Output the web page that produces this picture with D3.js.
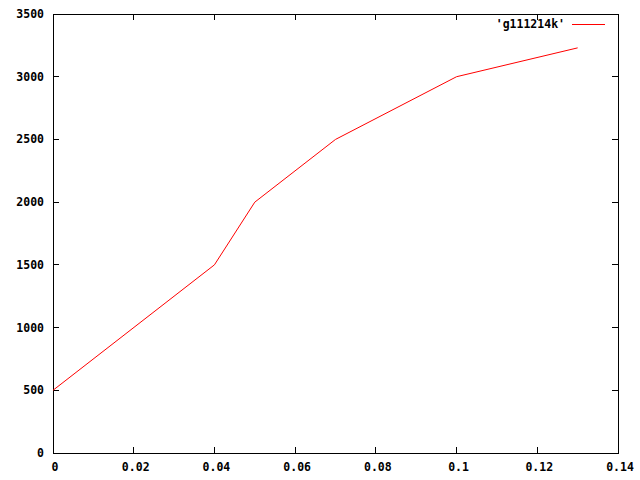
<!DOCTYPE html>
<html><head><meta charset="utf-8">
<script src="https://cdn.jsdelivr.net/npm/d3@7"></script>
<style>body{margin:0;background:#fff}</style>
</head><body>
<svg id="c" width="640" height="480"></svg>
<script>
const xValues = [0, 0.04, 0.05, 0.07, 0.1, 0.13];
const yValues = [500, 1500, 2000, 2500, 3000, 3230];
const seriesName = "'g111214k'";
const xTicks = [0, 0.02, 0.04, 0.06, 0.08, 0.1, 0.12, 0.14];
const yTicks = [0, 500, 1000, 1500, 2000, 2500, 3000, 3500];

const svg = d3.select("#c");
const L = 53, R = 618, T = 14, B = 453;
const x = d3.scaleLinear().domain([0, 0.14]).range([L, R]);
const y = d3.scaleLinear().domain([0, 3500]).range([B, T]);
const font = "DejaVu Sans Mono, monospace";
const tl = 6;

const g = svg.append("g").attr("shape-rendering", "crispEdges");
xTicks.forEach(t => {
  g.append("line").attr("x1", x(t)).attr("x2", x(t)).attr("y1", B).attr("y2", B - tl).attr("stroke", "#000");
  g.append("line").attr("x1", x(t)).attr("x2", x(t)).attr("y1", T).attr("y2", T + tl).attr("stroke", "#000");
  svg.append("text").attr("x", x(t) + 2).attr("y", 471).attr("text-anchor", "middle")
    .attr("font-family", font).attr("font-weight", "bold").attr("font-size", "11.5px")
    .text(String(t));
});
yTicks.forEach(t => {
  g.append("line").attr("x1", L).attr("x2", L + tl).attr("y1", y(t)).attr("y2", y(t)).attr("stroke", "#000");
  g.append("line").attr("x1", R).attr("x2", R - tl).attr("y1", y(t)).attr("y2", y(t)).attr("stroke", "#000");
  svg.append("text").attr("x", 44).attr("y", y(t) + 4).attr("text-anchor", "end")
    .attr("font-family", font).attr("font-weight", "bold").attr("font-size", "11.5px")
    .text(String(t));
});
g.append("rect").attr("x", L).attr("y", T).attr("width", R - L).attr("height", B - T)
  .attr("fill", "none").attr("stroke", "#000");

const data = xValues.map((v, i) => [v, yValues[i]]);
svg.append("path").datum(data)
  .attr("d", d3.line().x(d => x(d[0])).y(d => y(d[1])))
  .attr("fill", "none").attr("stroke", "#ff0000").attr("stroke-width", 1);

svg.append("text").attr("x", 565).attr("y", 28).attr("text-anchor", "end")
  .attr("font-family", font).attr("font-weight", "bold").attr("font-size", "11.5px").text(seriesName);
svg.append("line").attr("x1", 572).attr("x2", 605).attr("y1", 24.5).attr("y2", 24.5)
  .attr("stroke", "#ff0000").attr("stroke-width", 1);
</script>
</body></html>
